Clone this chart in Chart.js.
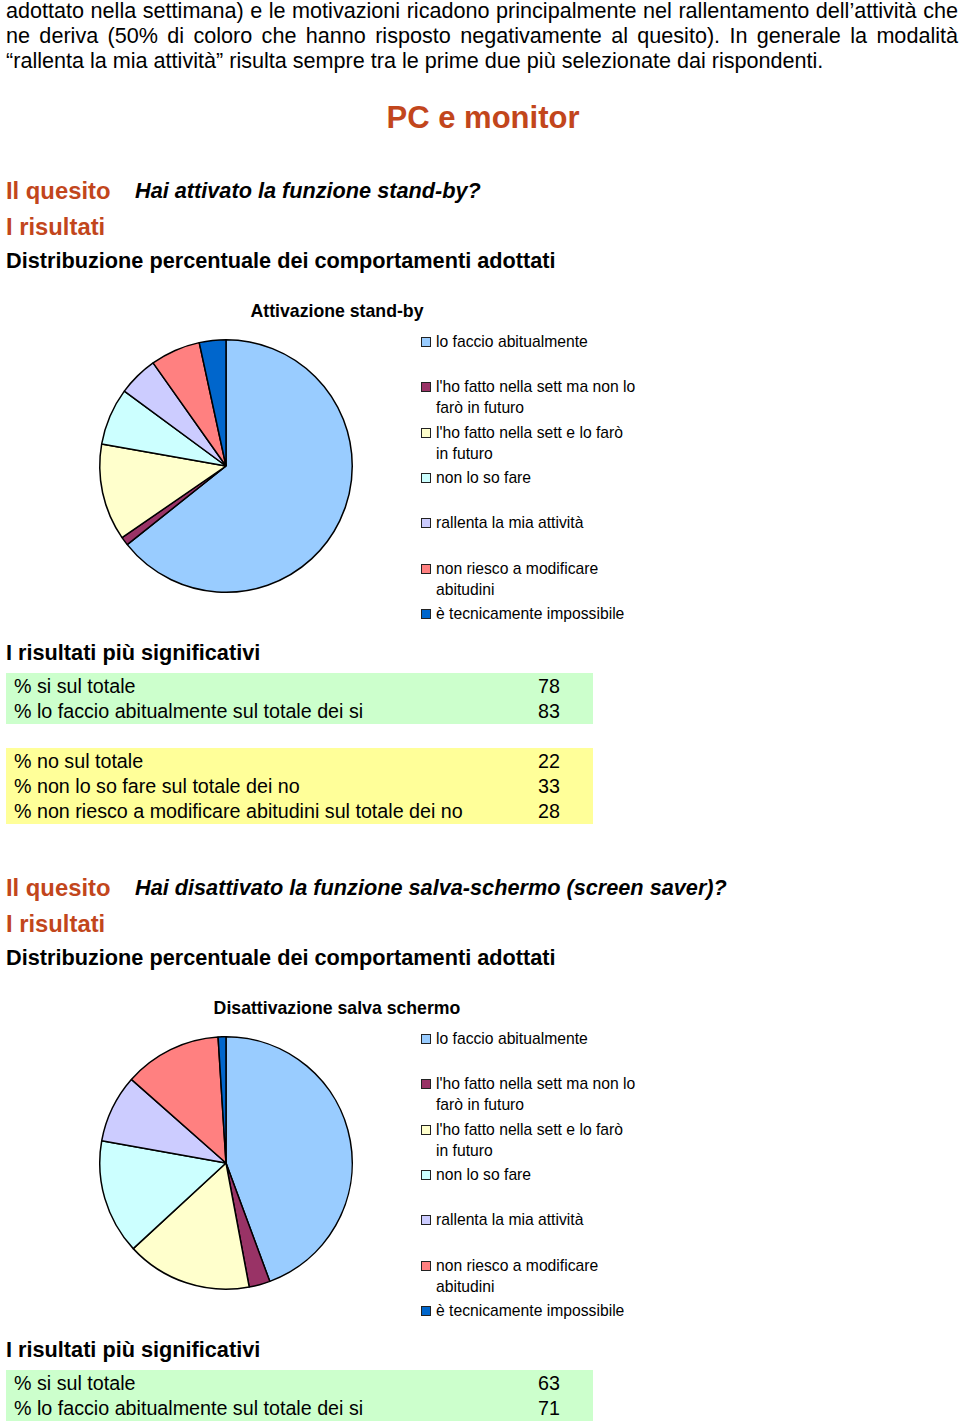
<!DOCTYPE html>
<html lang="it">
<head>
<meta charset="UTF-8" />
<title>PC e monitor</title>
<script src="https://cdn.jsdelivr.net/npm/chart.js@4.4.1/dist/chart.umd.min.js"></script>
<style>
  body { margin: 0; width: 960px; height: 1423px; background: #fff; position: relative; overflow: hidden;
         font-family: "Liberation Sans", Arial, sans-serif; color: #000; }
  .abs { position: absolute; white-space: nowrap; }
  .para { position: absolute; left: 6px; width: 952px; font-size: 21.6px; line-height: 21px; text-align: justify; text-align-last: justify; white-space: nowrap; }
  .head { font-size: 23.8px; font-weight: bold; color: #c2461c; line-height: 26px; }
  .quest { font-size: 21.7px; font-weight: bold; font-style: italic; line-height: 26px; }
  .sub { font-size: 21.7px; font-weight: bold; line-height: 26px; }
  .ctitle { font-size: 17.7px; font-weight: bold; line-height: 20px; transform: translateX(-50%); }
  .box { position: absolute; left: 6px; width: 587px; }
  .row { position: absolute; left: 14px; font-size: 19.7px; line-height: 25px; white-space: nowrap; }
  .num { position: absolute; left: 538px; font-size: 19.7px; line-height: 25px; }
  .leg { position: absolute; left: 420px; width: 220px; font-size: 15.7px; line-height: 21px; }
  .leg i { position: absolute; left: 1px; top: 6px; width: 8px; height: 8px; border: 1px solid #222; }
  .leg span { display: block; margin-left: 16px; width: 202px; }
  canvas { position: absolute; }
</style>
</head>
<body>

<div class="para" style="top:0px">adottato nella settimana) e le motivazioni ricadono principalmente nel rallentamento dell’attività che</div>
<div class="para" style="top:25px">ne deriva (50% di coloro che hanno risposto negativamente al quesito). In generale la modalità</div>
<div class="abs" style="left:6px;top:50px;font-size:21.6px;line-height:21px">“rallenta la mia attività” risulta sempre tra le prime due più selezionate dai rispondenti.</div>

<div class="abs" style="left:483px;top:100px;transform:translateX(-50%);font-size:31px;font-weight:bold;color:#c2461c;line-height:36px">PC e monitor</div>

<div id="page"></div>

<script>
// categorie delle risposte (stesse per i due grafici)
const labels = [
  "lo faccio abitualmente",
  "l'ho fatto nella sett ma non lo farò in futuro",
  "l'ho fatto nella sett e lo farò in futuro",
  "non lo so fare",
  "rallenta la mia attività",
  "non riesco a modificare abitudini",
  "è tecnicamente impossibile"
];
const colors = ["#99ccff", "#993366", "#ffffcc", "#ccffff", "#ccccff", "#ff8080", "#0066cc"];

// percentuali
const standbyValues = [64.3, 1.1, 12.4, 7.3, 5.1, 6.4, 3.4];
const screenValues = [44.4, 2.7, 16.1, 14.7, 8.7, 12.5, 1.0];

// tabelle "risultati più significativi"
const standbyYes = [["% si sul totale", 78], ["% lo faccio abitualmente sul totale dei si", 83]];
const standbyNo = [["% no sul totale", 22], ["% non lo so fare sul totale dei no", 33], ["% non riesco a modificare abitudini sul totale dei no", 28]];
const screenYes = [["% si sul totale", 63], ["% lo faccio abitualmente sul totale dei si", 71]];

const page = document.getElementById('page');

function add(html) {
  page.insertAdjacentHTML('beforeend', html);
}

function section(y0, question, title, values, yesRows, noRows) {
  // y0 = centro riga "Il quesito"
  add(`<div class="abs head" style="left:6px;top:${y0 - 13}px">Il quesito</div>`);
  add(`<div class="abs quest" style="left:135px;top:${y0 - 13}px">${question}</div>`);
  add(`<div class="abs head" style="left:6px;top:${y0 + 23}px">I risultati</div>`);
  add(`<div class="abs sub" style="left:6px;top:${y0 + 57}px">Distribuzione percentuale dei comportamenti adottati</div>`);
  add(`<div class="abs ctitle" style="left:337px;top:${y0 + 110}px">${title}</div>`);

  // legenda
  labels.forEach((l, i) => {
    add(`<div class="leg" style="top:${Math.round(y0 + 140 + i * 45.3)}px"><i style="background:${colors[i]}"></i><span>${l}</span></div>`);
  });

  // torta
  const c = document.createElement('canvas');
  c.width = 260; c.height = 260;
  c.style.left = '96px';
  c.style.top = (y0 + 145) + 'px';
  page.appendChild(c);
  new Chart(c, {
    type: 'pie',
    data: {
      labels: labels,
      datasets: [{
        data: values,
        backgroundColor: colors,
        borderColor: '#000',
        borderWidth: 1.5
      }]
    },
    options: {
      responsive: false,
      animation: false,
      layout: { padding: 3 },
      plugins: { legend: { display: false }, tooltip: { enabled: false } }
    }
  });

  add(`<div class="abs sub" style="left:6px;top:${y0 + 449}px">I risultati più significativi</div>`);

  let top = y0 + 482;
  add(`<div class="box" style="top:${top}px;height:${yesRows.length * 25 + 1}px;background:#ccffcc"></div>`);
  yesRows.forEach((r, i) => {
    add(`<div class="row" style="top:${top + 1 + i * 25}px">${r[0]}</div><div class="num" style="top:${top + 1 + i * 25}px">${r[1]}</div>`);
  });
  if (noRows) {
    top += 75;
    add(`<div class="box" style="top:${top}px;height:${noRows.length * 25 + 1}px;background:#ffff99"></div>`);
    noRows.forEach((r, i) => {
      add(`<div class="row" style="top:${top + 1 + i * 25}px">${r[0]}</div><div class="num" style="top:${top + 1 + i * 25}px">${r[1]}</div>`);
    });
  }
}

section(191, "Hai attivato la funzione stand-by?", "Attivazione stand-by", standbyValues, standbyYes, standbyNo);
section(888, "Hai disattivato la funzione salva-schermo (screen saver)?", "Disattivazione salva schermo", screenValues, screenYes, null);
</script>
</body>
</html>
